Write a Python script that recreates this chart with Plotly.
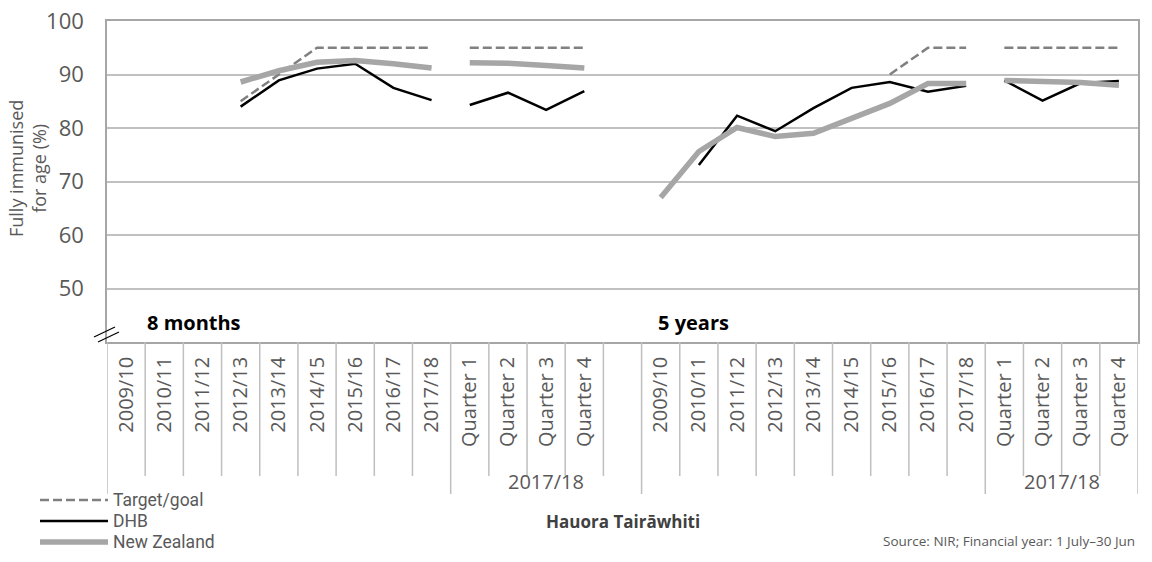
import plotly.graph_objects as go

# ---- categories -------------------------------------------------------------
annual = ["2009/10", "2010/11", "2011/12", "2012/13", "2013/14",
          "2014/15", "2015/16", "2016/17", "2017/18"]
quarters = ["Quarter 1", "Quarter 2", "Quarter 3", "Quarter 4"]
quarter_year = "2017/18"
age_groups = ["8 months", "5 years"]
y_ticks = [50, 60, 70, 80, 90, 100]

# ---- series values (% fully immunised for age) -----------------------------
target_8m_annual = [None, None, None, 85, 90, 95, 95, 95, 95]
dhb_8m_annual = [None, None, None, 84.0, 88.9, 91.1, 92.0, 87.5, 85.2]
nz_8m_annual = [None, None, None, 88.6, 90.7, 92.3, 92.6, 92.0, 91.2]
target_8m_quarter = [95, 95, 95, 95]
dhb_8m_quarter = [84.3, 86.6, 83.4, 86.9]
nz_8m_quarter = [92.2, 92.1, 91.7, 91.2]

target_5y_annual = [None, None, None, None, None, None, 90, 95, 95]
dhb_5y_annual = [None, 73.1, 82.3, 79.4, 83.7, 87.5, 88.6, 86.8, 87.9]
nz_5y_annual = [67.0, 75.6, 80.1, 78.4, 79.0, 81.8, 84.6, 88.3, 88.3]
target_5y_quarter = [95, 95, 95, 95]
dhb_5y_quarter = [88.9, 85.1, 88.4, 88.8]
nz_5y_quarter = [88.9, 88.7, 88.5, 88.0]

# ---- category slots: [8m annual | 8m quarters | spacer | 5y annual | 5y quarters]
slots = annual + quarters + [""] + annual + quarters
n_slots = len(slots)
start_8m_annual = 0
start_8m_quarter = len(annual)
start_5y_annual = len(annual) + len(quarters) + 1
start_5y_quarter = start_5y_annual + len(annual)


def centres(start, values):
    return [start + i + 0.5 for i in range(len(values))]


FONT = "Open Sans"
LEGEND_FONT = "Roboto"
GREY_TEXT = "#595959"
styles = {
    "Target/goal": dict(color="#808080", width=2.5, dash="9px,4px"),
    "DHB": dict(color="#000000", width=2.5),
    "New Zealand": dict(color="#a6a6a6", width=5.5),
}

series = {
    "Target/goal": [(start_8m_annual, target_8m_annual), (start_8m_quarter, target_8m_quarter),
                    (start_5y_annual, target_5y_annual), (start_5y_quarter, target_5y_quarter)],
    "DHB": [(start_8m_annual, dhb_8m_annual), (start_8m_quarter, dhb_8m_quarter),
            (start_5y_annual, dhb_5y_annual), (start_5y_quarter, dhb_5y_quarter)],
    "New Zealand": [(start_8m_annual, nz_8m_annual), (start_8m_quarter, nz_8m_quarter),
                    (start_5y_annual, nz_5y_annual), (start_5y_quarter, nz_5y_quarter)],
}

fig = go.Figure()
for name, segments in series.items():
    for start, vals in segments:
        fig.add_trace(go.Scatter(
            x=centres(start, vals), y=vals, mode="lines", name=name,
            legendgroup=name, showlegend=False, connectgaps=False,
            line=dict(**styles[name]), hoverinfo="skip",
        ))

# plot-area geometry in pixels (used for decorations outside the axes)
W, H = 1152, 562
L, R, T, B = 107, 14, 21, 220
PW, PH = W - L - R, H - T - B


def px_x(px):
    return (px - L) / PW


def px_y(py):
    return (H - B - py) / PH


shapes = []
# category dividers below the axis: short between categories, long between groups
group_edges = {0, start_8m_quarter, start_5y_annual, start_5y_quarter, n_slots}
for k in range(n_slots + 1):
    shapes.append(dict(type="line", xref="x", yref="paper", x0=k, x1=k,
                       y0=0, y1=px_y(494) if k in group_edges else px_y(476),
                       line=dict(color="#bfbfbf", width=1.5)))

# axis break marks on the value axis
for dx, dy in [(0, 0), (4, 5)]:
    shapes.append(dict(type="line", xref="paper", yref="paper",
                       x0=px_x(94 + dx), y0=px_y(337 + dy),
                       x1=px_x(115 + dx), y1=px_y(327 + dy),
                       line=dict(color="#000000", width=1.2)))

# legend keys
legend_rows = [("Target/goal", 500), ("DHB", 521), ("New Zealand", 542)]
for name, py in legend_rows:
    st = styles[name]
    shapes.append(dict(type="line", xref="paper", yref="paper",
                       x0=px_x(40), x1=px_x(108), y0=px_y(py), y1=px_y(py),
                       line=dict(color=st["color"], width=st["width"],
                                 dash=st.get("dash", "solid"))))

annotations = []
for name, py in legend_rows:
    annotations.append(dict(text=name, xref="paper", yref="paper", x=px_x(111), y=px_y(py),
                            xanchor="left", yanchor="middle", showarrow=False,
                            font=dict(family=LEGEND_FONT, size=17.5, color=GREY_TEXT)))

# quarter group labels
for start in (start_8m_quarter, start_5y_quarter):
    end = start + len(quarters) + (1 if start == start_8m_quarter else 0)
    annotations.append(dict(text=quarter_year, xref="x", yref="paper",
                            x=(start + end) / 2, y=px_y(481), xanchor="center",
                            yanchor="middle", showarrow=False,
                            font=dict(family=FONT, size=20, color=GREY_TEXT)))

# age group labels inside the plot
for label, px in zip(age_groups, (145, 656)):
    annotations.append(dict(text=f"<b>{label}</b>", xref="paper", yref="paper",
                            x=px_x(px), y=px_y(322), xanchor="left", yanchor="middle",
                            showarrow=False, font=dict(family=FONT, size=20, color="#000000")))

# value axis title
annotations.append(dict(text="Fully immunised<br>for age (%)", xref="paper", yref="paper",
                        x=px_x(27), y=px_y(169), xanchor="center", yanchor="middle",
                        textangle=-90, showarrow=False,
                        font=dict(family=FONT, size=18, color=GREY_TEXT)))

# category axis title and source note
annotations.append(dict(text="<b>Hauora Tairāwhiti</b>", xref="paper", yref="paper",
                        x=0.5, y=px_y(521), xanchor="center", yanchor="middle",
                        showarrow=False, font=dict(family=FONT, size=17, color="#404040")))
annotations.append(dict(text="Source: NIR; Financial year: 1 July–30 Jun", xref="paper",
                        yref="paper", x=px_x(1137), y=px_y(541), xanchor="right",
                        yanchor="middle", showarrow=False,
                        font=dict(family=FONT, size=13.5, color=GREY_TEXT)))

tick_pos = [i + 0.5 for i, s in enumerate(slots) if s]
tick_txt = [s for s in slots if s]

fig.update_layout(
    width=W, height=H,
    margin=dict(l=L, r=R, t=T, b=B, autoexpand=False),
    plot_bgcolor="white", paper_bgcolor="white",
    showlegend=False,
    shapes=shapes, annotations=annotations,
    xaxis=dict(range=[0, n_slots], showgrid=False, zeroline=False,
               showline=True, mirror=True, linecolor="#a6a6a6", linewidth=1.5,
               tickmode="array", tickvals=tick_pos, ticktext=tick_txt,
               tickangle=-90, ticks="", ticklabelstandoff=5, automargin=False,
               tickfont=dict(family=FONT, size=20, color=GREY_TEXT)),
    yaxis=dict(range=[40, 100], tickmode="array", tickvals=y_ticks,
               showgrid=True, gridcolor="#c0c0c0", gridwidth=1.5, zeroline=False,
               showline=True, mirror=True, linecolor="#a6a6a6", linewidth=1.5,
               ticks="", ticklabelstandoff=17, automargin=False,
               tickfont=dict(family=FONT, size=22, color=GREY_TEXT)),
)

fig.write_html("out.html")
